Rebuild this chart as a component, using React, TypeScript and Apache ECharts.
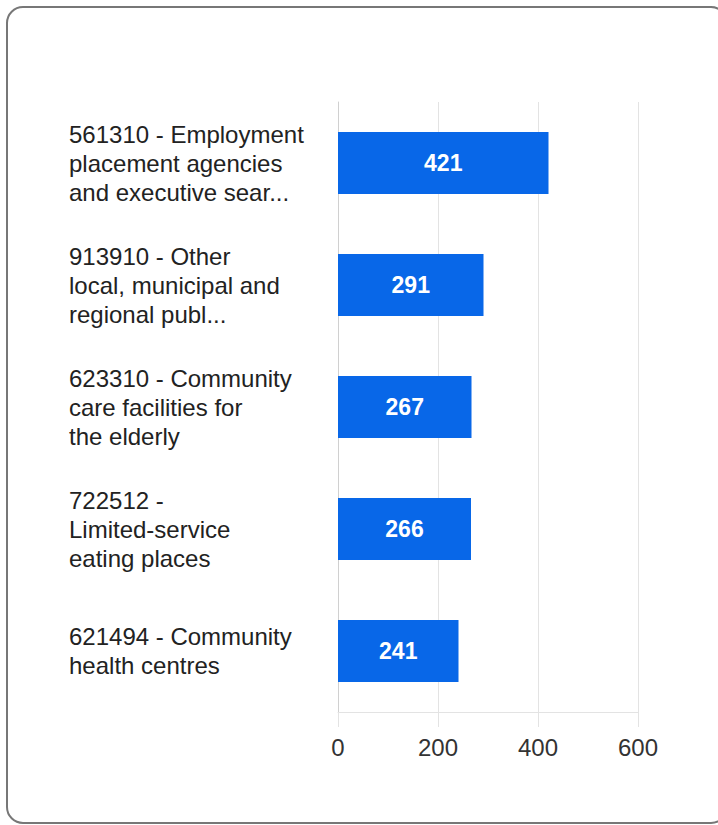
import React, { useEffect, useRef } from "react";
import * as echarts from "echarts";

const categories = [
  "561310 - Employment\nplacement agencies\nand executive sear...",
  "913910 - Other\nlocal, municipal and\nregional publ...",
  "623310 - Community\ncare facilities for\nthe elderly",
  "722512 -\nLimited-service\neating places",
  "621494 - Community\nhealth centres",
];
const values = [421, 291, 267, 266, 241];
const xTicks = [0, 200, 400, 600];

const FONT = "'Liberation Sans', Arial, sans-serif";

export default function App() {
  const ref = useRef<HTMLDivElement>(null);
  useEffect(() => {
    if (!ref.current) return;
    const chart = echarts.init(ref.current, undefined, { renderer: "svg" });
    chart.setOption({
      animation: false,
      backgroundColor: "#fff",
      grid: { left: 338, right: 80, top: 102, bottom: 113 },
      xAxis: {
        type: "value",
        min: xTicks[0],
        max: xTicks[xTicks.length - 1],
        interval: 200,
        axisLine: { show: true, lineStyle: { color: "#e3e3e3", width: 1 } },
        axisTick: { show: true, length: 15, lineStyle: { color: "#e3e3e3" } },
        splitLine: { show: true, lineStyle: { color: "#e3e3e3", width: 1 } },
        axisLabel: { color: "#333", fontSize: 24, fontFamily: FONT, margin: 23 },
      },
      yAxis: {
        type: "category",
        data: categories,
        inverse: true,
        axisLine: { show: true, lineStyle: { color: "#d0d0d0" } },
        axisTick: { show: false },
        axisLabel: {
          align: "left",
          margin: 269,
          color: "#222",
          fontSize: 24,
          lineHeight: 29,
          fontFamily: FONT,
        },
      },
      series: [
        {
          type: "bar",
          data: values,
          barWidth: "51%",
          itemStyle: { color: "#0867e8" },
          label: {
            show: true,
            position: "inside",
            color: "#fff",
            fontWeight: "bold",
            fontSize: 23,
            fontFamily: FONT,
          },
        },
      ],
      graphic: [
        {
          type: "rect",
          shape: { x: 7, y: 7, width: 720, height: 816, r: 16 },
          style: { fill: "none", stroke: "#777", lineWidth: 2 },
          silent: true,
        },
      ],
    });
    return () => chart.dispose();
  }, []);
  return (
    <div
      ref={ref}
      style={{ position: "fixed", left: 0, top: 0, width: 718, height: 825 }}
    />
  );
}
